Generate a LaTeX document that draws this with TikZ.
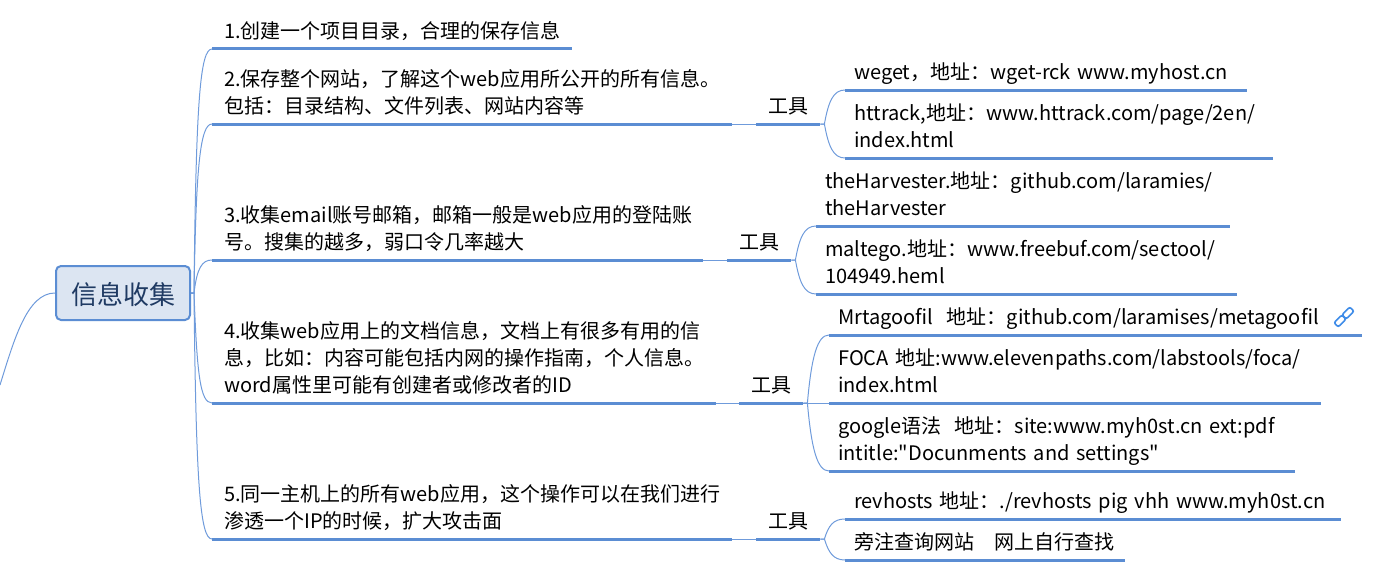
\documentclass[tikz,border=0pt]{standalone}
\usepackage{fontspec}
\setmainfont[Ligatures=TeXOff]{Noto Sans CJK SC}
\usepackage{xcolor}
\definecolor{branchblue}{HTML}{5B8DD3}
\definecolor{linkblue}{HTML}{6F9BDB}
\definecolor{iconblue}{HTML}{3F8CE8}
\definecolor{rootfill}{HTML}{DCE5F2}
\definecolor{rootink}{HTML}{1F3A63}

\tikzset{
topic/.style={anchor=south west,align=left,inner xsep=0pt,inner ysep=2pt,xshift=12pt,text width=#1*1pt-12pt,execute at end node=\strut,font=\fontsize{20}{27}\selectfont},
item/.style={anchor=south west,align=left,inner xsep=0pt,inner ysep=2pt,xshift=9pt,text width=#1*1pt-9pt,execute at end node=\strut,font=\fontsize{20}{27}\selectfont},
tool/.style={anchor=south west,align=center,inner xsep=0pt,inner ysep=2pt,minimum width=64pt,execute at end node=\strut,font=\fontsize{20}{27}\selectfont},
thickline/.style={draw=branchblue,line width=3pt},
thinlink/.style={draw=linkblue,line width=1pt},
linkicon/.style={draw=iconblue,line width=1.7pt,rounded corners=2pt,minimum width=11pt,minimum height=6pt,inner sep=0pt,rotate=45},
}

\begin{document}
\begin{tikzpicture}[x=1pt,y=-1pt]
\useasboundingbox (0,0) rectangle (1395,586);

\node[draw=branchblue,fill=rootfill,text=rootink,line width=2pt,rounded corners=5pt,minimum width=134pt,minimum height=54pt,text height=24pt,text depth=1pt,font=\fontsize{26}{30}\selectfont] (Root) at (123,293) {信息收集};
\coordinate (RootIn) at (0,385);
\draw[thinlink] (Root.west) .. controls +(-28,0) and +(14,-45) .. (RootIn);

% topics
\node[topic=360] (TopicA) at (212,49) {1.创建一个项目目录，合理的保存信息};
\node[topic=520] (TopicB) at (212,124) {2.保存整个网站，了解这个web应用所公开的所有信息。\\包括：目录结构、文件列表、网站内容等};
\node[topic=491] (TopicC) at (212,260) {3.收集email账号邮箱，邮箱一般是web应用的登陆账\\号。搜集的越多，弱口令几率越大};
\node[topic=504] (TopicD) at (212,403) {4.收集web应用上的文档信息，文档上有很多有用的信\\息，比如：内容可能包括内网的操作指南，个人信息。\\word属性里可能有创建者或修改者的ID};
\node[topic=520] (TopicE) at (212,539) {5.同一主机上的所有web应用，这个操作可以在我们进行\\渗透一个IP的时候，扩大攻击面};

\draw[thickline] (TopicA.south west) ++(-12,0) -- (TopicA.south east);
\draw[thickline] (TopicB.south west) ++(-12,0) -- (TopicB.south east);
\draw[thickline] (TopicC.south west) ++(-12,0) -- (TopicC.south east);
\draw[thickline] (TopicD.south west) ++(-12,0) -- (TopicD.south east);
\draw[thickline] (TopicE.south west) ++(-12,0) -- (TopicE.south east);

\draw[thinlink] (Root.east) -- ++(3,0) .. controls +(2,-190) and +(-12,0) .. ([xshift=-12pt]TopicA.south west);
\draw[thinlink] (Root.east) -- ++(3,0) .. controls +(2,-125) and +(-12,0) .. ([xshift=-12pt]TopicB.south west);
\draw[thinlink] (Root.east) -- ++(3,0) .. controls +(3,-25) and +(-10,0) .. ([xshift=-12pt]TopicC.south west);
\draw[thinlink] (Root.east) -- ++(3,0) .. controls +(3,80) and +(-12,0) .. ([xshift=-12pt]TopicD.south west);
\draw[thinlink] (Root.east) -- ++(3,0) .. controls +(2,190) and +(-12,0) .. ([xshift=-12pt]TopicE.south west);

% tools
\node[tool] (ToolB) at (756,124) {工具};
\node[tool] (ToolC) at (727,260) {工具};
\node[tool] (ToolD) at (739,403) {工具};
\node[tool] (ToolE) at (756,539) {工具};

\draw[thickline] (ToolB.south west) -- (ToolB.south east);
\draw[thickline] (ToolC.south west) -- (ToolC.south east);
\draw[thickline] (ToolD.south west) -- (ToolD.south east);
\draw[thickline] (ToolE.south west) -- (ToolE.south east);

\draw[thinlink] (TopicB.south east) -- (ToolB.south west);
\draw[thinlink] (TopicC.south east) -- (ToolC.south west);
\draw[thinlink] (TopicD.south east) -- (ToolD.south west);
\draw[thinlink] (TopicE.south east) -- (ToolE.south west);

% items
\node[item=402] (ItemBa) at (845,90) {weget，地址：wget-rck www.myhost.cn};
\node[item=428] (ItemBb) at (845,158) {httrack,地址：www.httrack.com/page/2en/\\index.html};
\node[item=414] (ItemCa) at (816,226) {theHarvester.地址：github.com/laramies/\\theHarvester};
\node[item=421] (ItemCb) at (816,294) {maltego.地址：www.freebuf.com/sectool/\\104949.heml};
\node[item=533] (ItemDa) at (829,335) {Mrtagoofil~~地址：github.com/laramises/metagoofil};
\node[item=492] (ItemDb) at (829,403) {FOCA 地址:www.elevenpaths.com/labstools/foca/\\index.html};
\node[item=466] (ItemDc) at (829,471) {google语法~~地址：site:www.myh0st.cn ext:pdf\\intitle:"Docunments and settings"};
\node[item=496] (ItemEa) at (845,519) {revhosts 地址：./revhosts pig vhh www.myh0st.cn};
\node[item=280] (ItemEb) at (845,560) {旁注查询网站~~~网上自行查找};

\foreach \name in {ItemBa,ItemBb,ItemCa,ItemCb,ItemDa,ItemDb,ItemDc,ItemEa,ItemEb}
\draw[thickline] (\name.south west) ++(-9,0) -- (\name.south east);

\draw[thinlink] (ToolB.south east) -- ++(4,0) .. controls +(4,-22) and +(-12,0) .. ([xshift=-9pt]ItemBa.south west);
\draw[thinlink] (ToolB.south east) -- ++(4,0) .. controls +(4,22) and +(-12,0) .. ([xshift=-9pt]ItemBb.south west);
\draw[thinlink] (ToolC.south east) -- ++(4,0) .. controls +(4,-22) and +(-12,0) .. ([xshift=-9pt]ItemCa.south west);
\draw[thinlink] (ToolC.south east) -- ++(4,0) .. controls +(4,22) and +(-12,0) .. ([xshift=-9pt]ItemCb.south west);
\draw[thinlink] (ToolD.south east) -- ++(4,0) .. controls +(4,-45) and +(-12,0) .. ([xshift=-9pt]ItemDa.south west);
\draw[thinlink] (ToolD.south east) -- ([xshift=-9pt]ItemDb.south west);
\draw[thinlink] (ToolD.south east) -- ++(4,0) .. controls +(4,45) and +(-12,0) .. ([xshift=-9pt]ItemDc.south west);
\draw[thinlink] (ToolE.south east) -- ++(4,0) .. controls +(4,-13) and +(-12,0) .. ([xshift=-9pt]ItemEa.south west);
\draw[thinlink] (ToolE.south east) -- ++(4,0) .. controls +(4,13) and +(-12,0) .. ([xshift=-9pt]ItemEb.south west);

% link icon
\node[linkicon] (LinkA) at (1340,321) {};
\node[linkicon] (LinkB) at (1348,313) {};

\end{tikzpicture}
\end{document}
